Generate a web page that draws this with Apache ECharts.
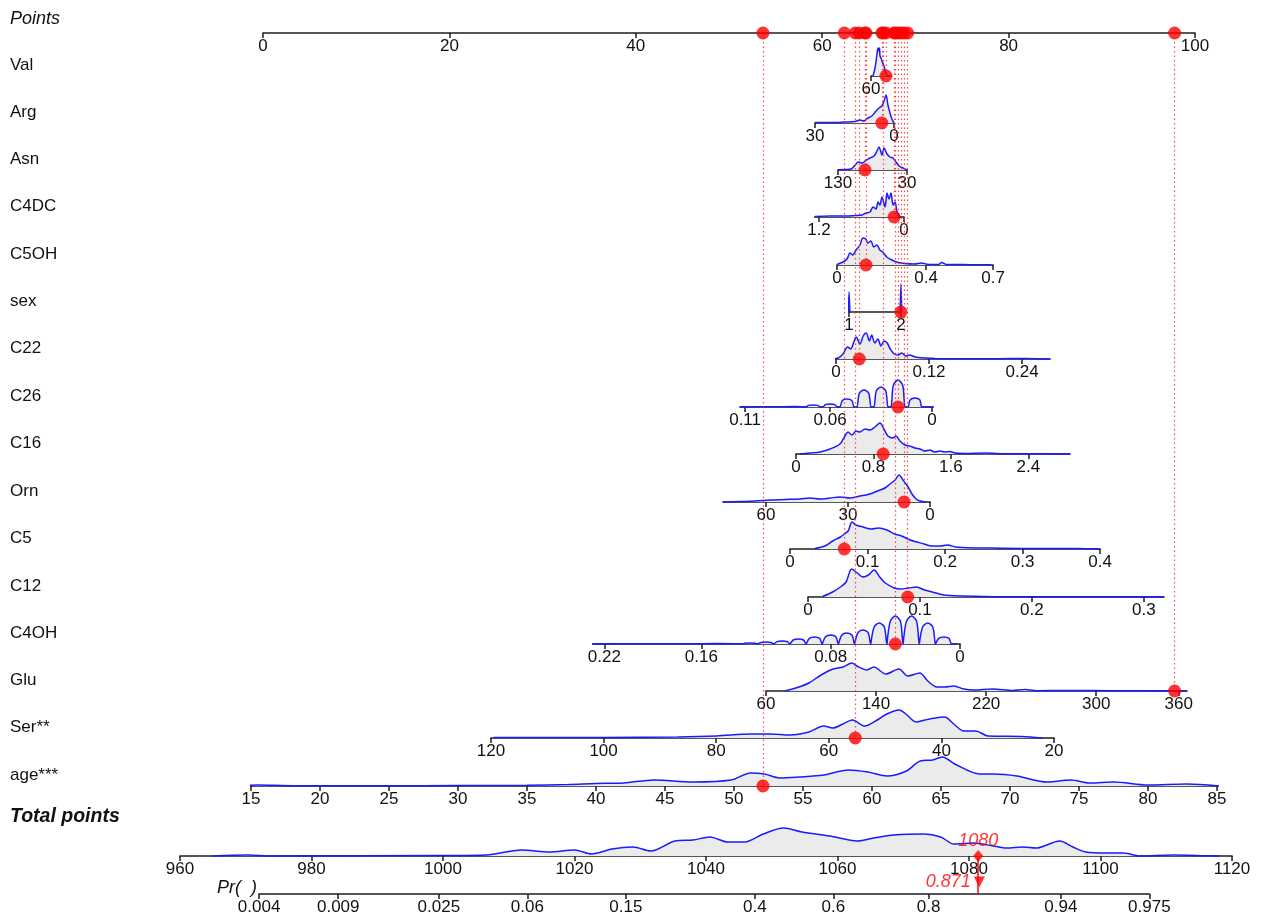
<!DOCTYPE html>
<html>
<head>
<meta charset="utf-8">
<script src="https://cdn.jsdelivr.net/npm/echarts@6/dist/echarts.min.js"></script>
<style>html,body{margin:0;padding:0;background:#fff;}#chart{width:1263px;height:919px;}</style>
</head>
<body>
<div id="chart"></div>
<script>
// ---------------- DATA ----------------
const rowNames = ['Val','Arg','Asn','C4DC','C5OH','sex','C22','C26','C16','Orn','C5','C12','C4OH','Glu','Ser**','age***'];
const axisMin = [60, 0, 30, 0, 0, 1, 0, 0, 0, 0, 0, 0, 0, 60, 20, 15];
const axisMax = [260, 30, 130, 1.26, 0.7, 2, 0.276, 0.113, 2.83, 75.7, 0.4, 0.318, 0.227, 366, 120, 85];
const ptsAtMin = [65.24, 67.70, 69.10, 68.78, 61.59, 62.88, 61.48, 71.78, 57.19, 71.57, 56.55, 58.48, 74.79, 53.97, 84.87, -1.29];
const ptsAtMax = [67.38, 59.23, 61.70, 59.20, 78.33, 68.45, 84.44, 51.18, 86.59, 49.36, 89.81, 96.67, 35.41, 99.14, 24.46, 102.36];
const tickVals = [
  [60], [30, 0], [130, 30], [1.2, 0], [0, 0.4, 0.7], [1, 2], [0, 0.12, 0.24], [0.11, 0.06, 0],
  [0, 0.8, 1.6, 2.4], [60, 30, 0], [0, 0.1, 0.2, 0.3, 0.4], [0, 0.1, 0.2, 0.3], [0.22, 0.16, 0.08, 0],
  [60, 140, 220, 300, 360], [120, 100, 80, 60, 40, 20], [15, 20, 25, 30, 35, 40, 45, 50, 55, 60, 65, 70, 75, 80, 85]
];
const patientValues = [210, 4.6, 90.9, 0.14, 0.13, 2, 0.03, 0.02, 0.9, 9.5, 0.07, 0.089, 0.04, 357, 55.3, 52.1];

const pointsTicks = [0, 20, 40, 60, 80, 100];
const totalTicks = [960, 980, 1000, 1020, 1040, 1060, 1080, 1100, 1120];
const totalRange = [960, 1120];
const prTicks = [0.004, 0.009, 0.025, 0.06, 0.15, 0.4, 0.6, 0.8, 0.94, 0.975];
const prSlope = 0.06781;      // logit per total point
const prMidTotal = 1053.4;    // total points where Pr = 0.5
const totalPoints = 1081.4;
const predProb = 0.871;

const densVal = [[80,0],[100,8],[120,22],[130,28],[140,25],[145,28],[150,20],[160,18],[170,15],[190,10],[210,2],[230,0]];
const densArg = [[30,0.5],[24,0.5],[18.6,1],[14.8,1.5],[12.9,3],[11.4,2],[9.9,5],[8.4,7],[6.8,12],[5.7,15],[4.6,17],[3.8,22],[3.0,28],[2.3,18],[1.5,10],[0.8,4],[0,0]];
const densAsn = [[130,0.3],[120,0.5],[111,1],[105,5],[101,8],[95,7],[89,10],[83.6,12],[77.8,14],[73.5,19],[70.6,23],[66.2,15],[63.3,22],[59,16],[54.6,13],[50.3,12],[46,8],[41.6,4],[35.8,2],[30,0]];
const densC4DC = [[1.257,0.5],[1.045,1],[0.833,1],[0.692,1.5],[0.593,2],[0.537,4],[0.48,5],[0.438,10],[0.395,8],[0.367,15],[0.339,12],[0.311,20],[0.268,10],[0.24,24],[0.212,18],[0.184,24],[0.155,12],[0.127,15],[0.099,5],[0.071,1],[0.042,0]];
const densC5OH = [[0,0.5],[0.027,3],[0.045,6],[0.058,12],[0.071,10],[0.085,15],[0.103,20],[0.116,27],[0.129,26],[0.138,22],[0.152,24],[0.165,18],[0.179,20],[0.192,15],[0.205,13],[0.223,8],[0.246,5],[0.268,3],[0.304,1.5],[0.348,1],[0.379,2],[0.406,0.8],[0.455,0.5],[0.47,2.5],[0.49,0.5],[0.53,0.5],[0.6,0.3],[0.69,0.3]];
const densSex = [[0.985,0],[1,20],[1.015,0],[1.5,null],[1.985,0],[2,28],[2.015,0]];
const densC22 = [[-0.008,0],[0.003,1],[0.009,5],[0.015,12],[0.019,10],[0.023,17],[0.026,22],[0.031,15],[0.035,23],[0.039,26],[0.043,18],[0.046,24],[0.05,16],[0.054,20],[0.058,13],[0.062,18],[0.066,16],[0.07,10],[0.075,5],[0.08,4],[0.085,6],[0.09,3],[0.095,4],[0.102,2],[0.115,1],[0.128,0.5],[0.21,0.3],[0.245,0.5],[0.276,0]];
const densC26 = [[0.113,0],[0.095,0.3],[0.08,0.4],
  [0.0742,0],[0.0728,1.6],[0.07,2],[0.0672,1.6],[0.0658,0],
  [0.0642,0],[0.0628,2.4],[0.06,3],[0.0572,2.4],[0.0558,0],
  [0.0542,0],[0.0528,6.4],[0.05,8],[0.0472,6.4],[0.0458,0],
  [0.0442,0],[0.0428,13.6],[0.04,17],[0.0372,13.6],[0.0358,0],
  [0.0342,0],[0.0328,16],[0.03,20],[0.0272,16],[0.0258,0],
  [0.0242,0],[0.0228,21.6],[0.02,27],[0.0172,21.6],[0.0158,0],
  [0.0142,0],[0.0128,7.2],[0.01,9],[0.0072,7.2],[0.0058,0],
  [-0.003,0]];
const densC16 = [[0.04,0],[0.145,1],[0.248,2],[0.351,5],[0.454,10],[0.506,18],[0.537,22],[0.578,19],[0.619,23],[0.66,22],[0.712,25],[0.764,24],[0.815,27],[0.867,31],[0.908,25],[0.949,18],[1.0,16],[1.032,18],[1.073,13],[1.125,9],[1.176,8],[1.228,6],[1.28,5],[1.331,3],[1.383,4],[1.434,2],[1.486,3],[1.538,2],[1.589,2.5],[1.641,1],[1.744,0.5],[1.95,1],[2.1,0.3],[2.5,0.3],[2.83,0]];
const densOrn = [[75.7,0],[69.5,0.5],[64,1],[58.5,2],[53,2.5],[47.6,3],[43.9,4],[40.2,3],[36.6,4],[32.9,5],[29.3,4],[25.6,6],[22,8],[18.3,12],[16.5,14],[14.6,18],[12.8,22],[11.3,27],[9.9,22],[8,15],[6.6,8],[5.1,3],[3.7,1],[1.5,0]];
const densC5 = [[0.032,0.5],[0.045,3],[0.055,8],[0.065,12],[0.07,15],[0.075,18],[0.08,27],[0.085,24],[0.094,22],[0.105,20],[0.114,21],[0.125,19],[0.135,15],[0.144,13],[0.155,9],[0.164,7],[0.173,5],[0.183,3],[0.194,3],[0.203,4],[0.214,2],[0.223,1.5],[0.248,1],[0.272,0.8],[0.321,0.5],[0.37,0.5],[0.4,0]];
const densC12 = [[0.013,0.5],[0.022,5],[0.029,10],[0.034,15],[0.039,28],[0.044,24],[0.049,20],[0.054,22],[0.059,27],[0.064,20],[0.069,14],[0.077,9],[0.083,8],[0.09,9],[0.097,10],[0.104,7],[0.111,5],[0.121,2],[0.138,1],[0.172,0.3],[0.241,0.3],[0.318,0]];
const densC4OH = [[0.228,0],[0.2,0.3],[0.17,0.2],[0.15,0.5],[0.14,0.3],
  [0.1348,0],[0.1332,0.8],[0.13,1],[0.1268,0.8],[0.1252,0],
  [0.1248,0],[0.1232,1.6],[0.12,2],[0.1168,1.6],[0.1152,0],
  [0.1148,0],[0.1132,2.4],[0.11,3],[0.1068,2.4],[0.1052,0],
  [0.1048,0],[0.1032,4],[0.1,5],[0.0968,4],[0.0952,0],
  [0.0948,0],[0.0932,5.6],[0.09,7],[0.0868,5.6],[0.0852,0],
  [0.0848,0],[0.0832,7.2],[0.08,9],[0.0768,7.2],[0.0752,0],
  [0.0748,0],[0.0732,8.8],[0.07,11],[0.0668,8.8],[0.0652,0],
  [0.0648,0],[0.0632,11.2],[0.06,14],[0.0568,11.2],[0.0552,0],
  [0.0548,0],[0.0532,16.8],[0.05,21],[0.0468,16.8],[0.0452,0],
  [0.0448,0],[0.0432,22.4],[0.04,28],[0.0368,22.4],[0.0352,0],
  [0.0348,0],[0.0332,22.4],[0.03,28],[0.0268,22.4],[0.0252,0],
  [0.0248,0],[0.0232,16.8],[0.02,21],[0.0168,16.8],[0.0152,0],
  [0.0148,0],[0.0132,5.6],[0.01,7],[0.0068,5.6],[0.0052,0],
  [0.002,0]];
const densGlu = [[73.8,0],[84,4],[91.2,8],[100,16],[108.7,22],[116,24],[122.5,28],[126,25],[133.4,21],[138.4,24],[147.1,17],[156.6,22],[163.1,15],[171.8,18],[177.6,10],[184.2,4],[190,4],[196.5,5],[203.8,2],[211,1],[224.9,2],[239.4,0.5],[248,1.5],[256.8,0.3],[277.9,0.5],[312.7,0.3],[365.7,0]];
const densSer = [[119.5,0.5],[99.8,0.5],[86.8,1],[79.9,2],[73.8,4],[70.4,4],[66.9,3],[63.5,6],[60.9,12],[59.3,10],[57.5,14],[55.8,18],[53.6,12],[51.4,18],[49.7,24],[47.5,28],[46.3,24],[44.5,16],[42.9,18],[41.1,20],[39.4,21],[37.8,14],[36,7],[33.9,7],[31.7,2],[25.7,1.5],[22.1,0]];
const densAge = [[13.8,0],[15.5,1],[18,0.3],[25,0.3],[30,0.5],[35,0.8],[38,1.5],[40,2.5],[42,3],[44.2,6],[47,4],[49.8,6],[51.2,13],[52.2,12],[53.3,8],[54.7,9],[56.5,11],[58.3,16],[59.7,14],[61.1,10],[62.5,15],[63.5,25],[64.4,26],[65.1,29],[66,22],[67.8,12],[68.8,12],[70.5,10],[72.7,4],[74.4,6],[75.8,3],[77.5,4],[80,1],[82.8,2],[85.2,0]];
const densTotal = [[965,0],[970.3,1],[974,0],[1001,0.5],[1006.6,1],[1011.9,6],[1016.2,4],[1020,6],[1022.6,2],[1025.7,7],[1028.9,9],[1031.6,5],[1035.3,15],[1038,16],[1040.6,19],[1043.3,14],[1045.9,14],[1048.7,22],[1051.8,28],[1054.6,24],[1058.8,20],[1063.1,15],[1065.5,18],[1068.6,21],[1073.2,22],[1075.7,19],[1077.7,12],[1080.7,13],[1083.7,10],[1085.7,8],[1088.2,9],[1090.2,8],[1093.8,15],[1095.8,9],[1097.8,4],[1100.9,3],[1103.5,3],[1106,0],[1111,1],[1116,0.3],[1118,0]];
const densities = [densVal, densArg, densAsn, densC4DC, densC5OH, densSex, densC22, densC26, densC16, densOrn, densC5, densC12, densC4OH, densGlu, densSer, densAge];

// ---------------- LAYOUT ----------------
const W = 1263, H = 919;
const PX0 = 263, PX100 = 1195;           // pixel span of the Points axis
const TPX0 = 180, TPX1 = 1232;           // pixel span of the Total points axis
const pointsY = 33;
const rowY = [76,123,170,217,265,312,359,407,454,502,549,597,644,691,738,786];
const totalY = 856, prY = 894;
const DH = 40;
const FONT = "'Liberation Sans', Arial, Helvetica, sans-serif";
const AXCOL = '#1e1e1e';
const BLUE = '#1a1aff';
const FILL = '#ebebeb';
const RED = '#ff0000';

const ptsPx = p => PX0 + (PX100 - PX0) * p / 100;
const totPx = t => TPX0 + (TPX1 - TPX0) * (t - totalRange[0]) / (totalRange[1] - totalRange[0]);
const logit = p => Math.log(p / (1 - p));
const prToTotal = p => prMidTotal + logit(p) / prSlope;
const valueToPts = (i, v) => ptsAtMin[i] + (v - axisMin[i]) / (axisMax[i] - axisMin[i]) * (ptsAtMax[i] - ptsAtMin[i]);
const fmt = v => String(+(+v).toFixed(6));

const grid = [], xAxis = [], yAxis = [], series = [], graphic = [];

function axisCommon(ticks, formatter) {
  return {
    axisLine: {show: true, lineStyle: {color: AXCOL, width: 1.7}},
    axisTick: {show: true, inside: false, length: 5, lineStyle: {color: AXCOL, width: 1.5}, customValues: ticks},
    axisLabel: {show: true, margin: 5, fontSize: 17, fontFamily: FONT, color: '#111', customValues: ticks, formatter: formatter || fmt},
    splitLine: {show: false}
  };
}
function addGrid(left, right, baseY, h) {
  grid.push({left: left, width: right - left, top: baseY - h, height: h, containLabel: false});
  return grid.length - 1;
}

// Points axis
let gi = addGrid(PX0, PX100, pointsY, 10);
xAxis.push(Object.assign({gridIndex: gi, type: 'value', min: 0, max: 100, position: 'bottom'}, axisCommon(pointsTicks)));
yAxis.push({gridIndex: gi, type: 'value', min: 0, max: 10, show: false});
const POINTS_AX = gi;

// variable rows
const patientPts = patientValues.map((v, i) => valueToPts(i, v));
rowNames.forEach((name, i) => {
  const pl = Math.min(ptsAtMin[i], ptsAtMax[i]), pr = Math.max(ptsAtMin[i], ptsAtMax[i]);
  const g = addGrid(ptsPx(pl), ptsPx(pr), rowY[i], DH);
  xAxis.push(Object.assign({gridIndex: g, type: 'value', min: axisMin[i], max: axisMax[i],
    inverse: ptsAtMin[i] > ptsAtMax[i], position: 'bottom'}, axisCommon(tickVals[i])));
  yAxis.push({gridIndex: g, type: 'value', min: 0, max: DH, show: false});
  series.push({type: 'line', xAxisIndex: g, yAxisIndex: g, data: densities[i], smooth: 0.3, symbol: 'none',
    connectNulls: false, clip: false, z: 1,
    lineStyle: {color: BLUE, width: 1.5}, areaStyle: {color: FILL, opacity: 1}});
  series.push({type: 'scatter', xAxisIndex: g, yAxisIndex: g, data: [[patientValues[i], 0]], symbol: 'circle',
    symbolSize: 13, itemStyle: {color: RED}, clip: false, z: 6});
  graphic.push({type: 'text', x: 10, y: rowY[i] - 11, style: {text: name, fontSize: 17, fontFamily: FONT, fill: '#111', align: 'left', verticalAlign: 'middle'}});
});

// Points-axis dots
series.push({type: 'scatter', xAxisIndex: POINTS_AX, yAxisIndex: POINTS_AX, data: patientPts.map(p => [p, 0]),
  symbol: 'circle', symbolSize: 13, itemStyle: {color: RED}, clip: false, z: 6});

// overlay grid in points units for dotted guide lines
gi = addGrid(PX0, PX100, H, H);
xAxis.push({gridIndex: gi, type: 'value', min: 0, max: 100, show: false});
yAxis.push({gridIndex: gi, type: 'value', min: 0, max: H, inverse: true, show: false});
series.push({type: 'lines', coordinateSystem: 'cartesian2d', xAxisIndex: gi, yAxisIndex: gi, z: 3, silent: true,
  data: patientPts.map((p, i) => ({coords: [[Math.round(ptsPx(p)) === ptsPx(p) ? p : p, pointsY], [p, rowY[i]]]})),
  lineStyle: {color: '#ff2a2a', width: 1.2, type: [1.5, 3], opacity: 0.85}});

// Total points axis
gi = addGrid(TPX0, TPX1, totalY, DH);
xAxis.push(Object.assign({gridIndex: gi, type: 'value', min: totalRange[0], max: totalRange[1], position: 'bottom'}, axisCommon(totalTicks)));
yAxis.push({gridIndex: gi, type: 'value', min: 0, max: DH, show: false});
series.push({type: 'line', xAxisIndex: gi, yAxisIndex: gi, data: densTotal, smooth: 0.3, symbol: 'none', clip: false, z: 1,
  lineStyle: {color: BLUE, width: 1.5}, areaStyle: {color: FILL, opacity: 1}});
series.push({type: 'scatter', xAxisIndex: gi, yAxisIndex: gi, data: [[totalPoints, 0]], symbol: 'diamond', symbolSize: [10, 12],
  itemStyle: {color: RED}, clip: false, z: 7,
  label: {show: true, position: 'top', distance: 0, formatter: () => String(Number(totalPoints.toPrecision(3))),
    color: RED, fontStyle: 'italic', fontSize: 18, fontFamily: FONT}});

// Pr axis (logit scale)
const prLo = logit(prTicks[0]), prHi = logit(prTicks[prTicks.length - 1]);
gi = addGrid(totPx(prToTotal(prTicks[0])), totPx(prToTotal(prTicks[prTicks.length - 1])), prY, 10);
xAxis.push(Object.assign({gridIndex: gi, type: 'value', min: prLo, max: prHi, position: 'bottom'},
  axisCommon(prTicks.map(logit), v => { let best = prTicks[0]; prTicks.forEach(p => { if (Math.abs(logit(p) - v) < Math.abs(logit(best) - v)) best = p; }); return String(best); })));
yAxis.push({gridIndex: gi, type: 'value', min: 0, max: 10, show: false});
series.push({type: 'scatter', xAxisIndex: gi, yAxisIndex: gi, data: [[logit(predProb), 0]], symbol: 'triangle', symbolRotate: 180,
  symbolSize: [11, 11], symbolOffset: [0, -12], itemStyle: {color: RED}, clip: false, z: 7,
  label: {show: true, position: 'left', distance: 3, formatter: () => String(predProb), color: RED, fontStyle: 'italic', fontSize: 18, fontFamily: FONT}});

// overlay in total-points units for the red connector
gi = addGrid(TPX0, TPX1, H, H);
xAxis.push({gridIndex: gi, type: 'value', min: totalRange[0], max: totalRange[1], show: false});
yAxis.push({gridIndex: gi, type: 'value', min: 0, max: H, inverse: true, show: false});
series.push({type: 'lines', coordinateSystem: 'cartesian2d', xAxisIndex: gi, yAxisIndex: gi, z: 5, silent: true,
  data: [{coords: [[totalPoints, totalY], [totalPoints, prY]]}],
  lineStyle: {color: RED, width: 1.5, type: 'solid', opacity: 1}});

// titles
graphic.push({type: 'text', x: 10, y: 19, style: {text: 'Points', fontSize: 18, fontStyle: 'italic', fontFamily: FONT, fill: '#111', align: 'left', verticalAlign: 'middle'}});
graphic.push({type: 'text', x: 10, y: 817, style: {text: 'Total points', fontSize: 19.5, fontStyle: 'italic', fontWeight: 'bold', fontFamily: FONT, fill: '#111', align: 'left', verticalAlign: 'middle'}});
graphic.push({type: 'text', x: 257, y: 888, style: {text: 'Pr(  )', fontSize: 18, fontStyle: 'italic', fontFamily: FONT, fill: '#111', align: 'right', verticalAlign: 'middle'}});

const chart = echarts.init(document.getElementById('chart'), null, {renderer: 'canvas'});
chart.setOption({animation: false, backgroundColor: '#fff', grid, xAxis, yAxis, series, graphic});
</script>
</body>
</html>
